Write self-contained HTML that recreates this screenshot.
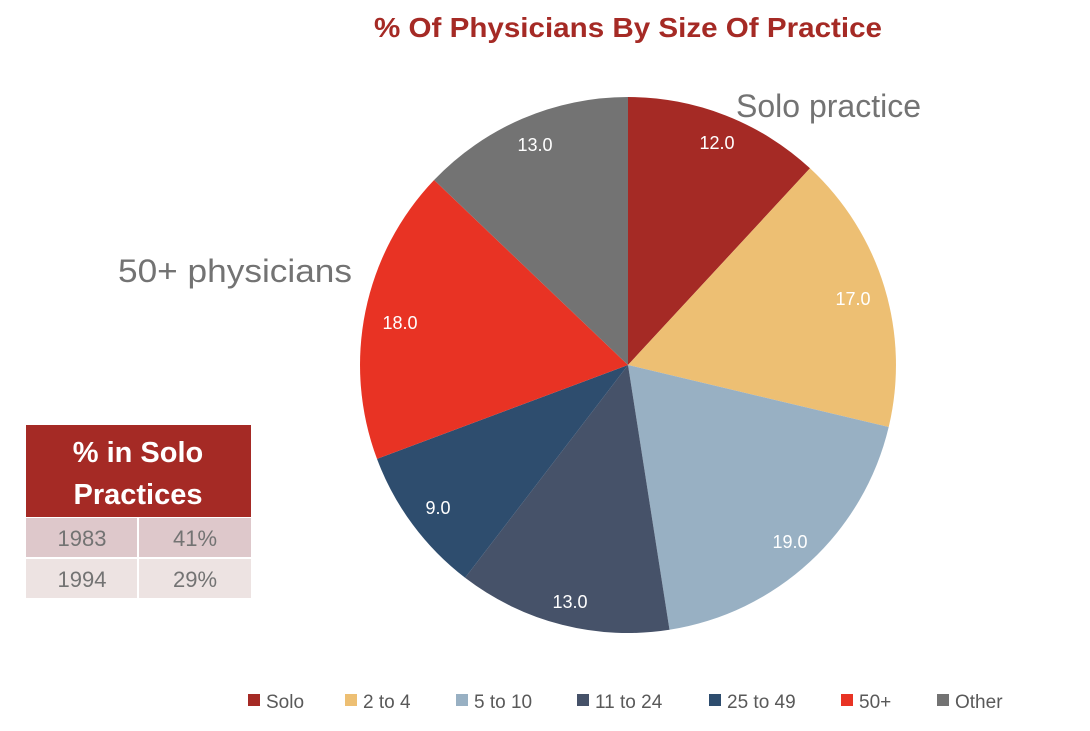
<!DOCTYPE html>
<html><head><meta charset="utf-8"><style>
body{margin:0;background:#fff;width:1090px;height:726px;overflow:hidden;font-family:"Liberation Sans",sans-serif;}
</style></head><body>
<svg width="1090" height="726" xmlns="http://www.w3.org/2000/svg" font-family="Liberation Sans, sans-serif">
<text x="374" y="37" textLength="508" lengthAdjust="spacingAndGlyphs" font-size="28" font-weight="bold" fill="#A52A25">% Of Physicians By Size Of Practice</text>
<g>
<path d="M628,365 L628,97 A268,268 0 0 1 810,168.3 Z" fill="#A52A25"/>
<path d="M628,365 L810,168.3 A268,268 0 0 1 888.7,427 Z" fill="#EDBF73"/>
<path d="M628,365 L888.7,427 A268,268 0 0 1 669.5,629.8 Z" fill="#98B0C3"/>
<path d="M628,365 L669.5,629.8 A268,268 0 0 1 465.1,577.8 Z" fill="#465269"/>
<path d="M628,365 L465.1,577.8 A268,268 0 0 1 377,458.9 Z" fill="#2E4D6E"/>
<path d="M628,365 L377,458.9 A268,268 0 0 1 434.1,180 Z" fill="#E83324"/>
<path d="M628,365 L434.1,180 A268,268 0 0 1 628,97 Z" fill="#737373"/>
</g>
<g fill="#fff" font-size="18" text-anchor="middle">
<text x="717" y="149">12.0</text>
<text x="853" y="305">17.0</text>
<text x="790" y="548">19.0</text>
<text x="570" y="608">13.0</text>
<text x="438" y="514">9.0</text>
<text x="400" y="329">18.0</text>
<text x="535" y="151">13.0</text>
</g>
<text x="736" y="117" textLength="185" lengthAdjust="spacingAndGlyphs" font-size="32" fill="#737373">Solo practice</text>
<text x="118" y="282" textLength="234" lengthAdjust="spacingAndGlyphs" font-size="32" fill="#737373">50+ physicians</text>
<rect x="26" y="425" width="225" height="92" fill="#A52A25"/>
<text x="138" y="462" text-anchor="middle" font-size="29" font-weight="bold" fill="#fff">% in Solo</text>
<text x="138" y="504" text-anchor="middle" font-size="29" font-weight="bold" fill="#fff">Practices</text>
<rect x="26" y="518" width="111" height="39" fill="#DEC8CB"/>
<rect x="139" y="518" width="112" height="39" fill="#DEC8CB"/>
<rect x="26" y="559" width="111" height="39" fill="#EDE3E2"/>
<rect x="139" y="559" width="112" height="39" fill="#EDE3E2"/>
<g font-size="22" fill="#737373" text-anchor="middle">
<text x="82" y="546">1983</text><text x="195" y="546">41%</text>
<text x="82" y="587">1994</text><text x="195" y="587">29%</text>
</g>
<g font-size="19" fill="#595959">
<rect x="248" y="694" width="12" height="12" fill="#A52A25"/><text x="266" y="708">Solo</text>
<rect x="345" y="694" width="12" height="12" fill="#EDBF73"/><text x="363" y="708">2 to 4</text>
<rect x="456" y="694" width="12" height="12" fill="#98B0C3"/><text x="474" y="708">5 to 10</text>
<rect x="577" y="694" width="12" height="12" fill="#465269"/><text x="595" y="708">11 to 24</text>
<rect x="709" y="694" width="12" height="12" fill="#2E4D6E"/><text x="727" y="708">25 to 49</text>
<rect x="841" y="694" width="12" height="12" fill="#E83324"/><text x="859" y="708">50+</text>
<rect x="937" y="694" width="12" height="12" fill="#737373"/><text x="955" y="708">Other</text>
</g>
</svg>
</body></html>
